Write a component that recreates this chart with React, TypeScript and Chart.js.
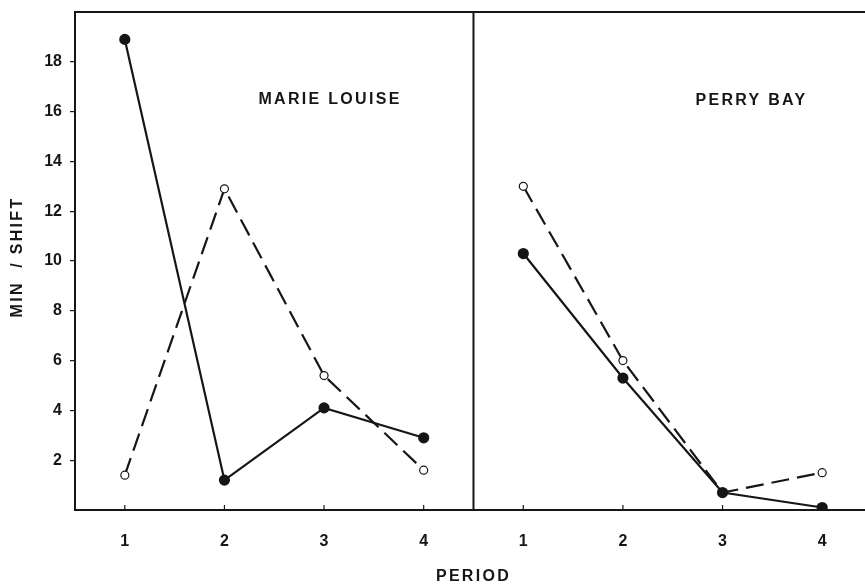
import React, { useEffect, useRef } from "react";
import { Chart, registerables } from "chart.js";

Chart.register(...registerables);

const periods = [1, 2, 3, 4];
const periodTicks = ["1", "2", "3", "4", "1", "2", "3", "4"];
const yTicks = [2, 4, 6, 8, 10, 12, 14, 16, 18];
const sites = ["MARIE LOUISE", "PERRY BAY"];
const marieLouiseFilled = [18.9, 1.2, 4.1, 2.9];
const marieLouiseOpen = [1.4, 12.9, 5.4, 1.6];
const perryBayFilled = [10.3, 5.3, 0.7, 0.1];
const perryBayOpen = [13.0, 6.0, 0.7, 1.5];

const INK = "#161616";
const FONT = '"Liberation Sans", Arial, sans-serif';

function pts(vals: number[], offset: number) {
  return vals.map((v, i) => ({ x: periods[i] + offset, y: v }));
}

const decorPlugin = {
  id: "decor",
  afterDraw(chart: any) {
    const ctx = chart.ctx;
    const xs = chart.scales.x;
    const ys = chart.scales.y;
    const a = chart.chartArea;
    ctx.save();
    ctx.strokeStyle = INK;
    ctx.lineWidth = 2;
    ctx.beginPath();
    ctx.moveTo(a.left, a.top);
    ctx.lineTo(a.right, a.top);
    ctx.stroke();
    const dx = xs.getPixelForValue(4.5);
    ctx.beginPath();
    ctx.moveTo(dx, a.top);
    ctx.lineTo(dx, a.bottom);
    ctx.stroke();
    ctx.lineWidth = 1.2;
    for (let v = 1; v <= 8; v++) {
      const px = xs.getPixelForValue(v);
      ctx.beginPath();
      ctx.moveTo(px, a.bottom);
      ctx.lineTo(px, a.bottom - 5);
      ctx.stroke();
    }
    ctx.fillStyle = INK;
    ctx.font = `bold 16px ${FONT}`;
    (ctx as any).letterSpacing = "2.3px";
    ctx.textAlign = "center";
    ctx.textBaseline = "middle";
    ctx.fillText(sites[0], xs.getPixelForValue(3.06), ys.getPixelForValue(16.5));
    ctx.fillText(sites[1], xs.getPixelForValue(7.29), ys.getPixelForValue(16.45));
    ctx.fillText("PERIOD", dx, 577);
    ctx.translate(18, 257);
    ctx.rotate(-Math.PI / 2);
    ctx.fillText("MIN  / SHIFT", 0, 0);
    ctx.restore();
  },
};

export default function App() {
  const ref = useRef<HTMLCanvasElement>(null);
  useEffect(() => {
    if (!ref.current) return;
    const solid = (data: any) => ({
      data,
      borderColor: INK,
      backgroundColor: INK,
      borderWidth: 2.2,
      pointRadius: 4.5,
      pointBackgroundColor: INK,
      pointBorderColor: INK,
      showLine: true,
      tension: 0,
    });
    const dashed = (data: any) => ({
      data,
      borderColor: INK,
      backgroundColor: "#fff",
      borderWidth: 2.2,
      borderDash: [18, 8],
      pointRadius: 4,
      pointBorderWidth: 1.2,
      pointBackgroundColor: "#fff",
      pointBorderColor: INK,
      showLine: true,
      tension: 0,
    });
    const chart = new Chart(ref.current, {
      type: "scatter",
      data: {
        datasets: [
          solid(pts(marieLouiseFilled, 0)),
          dashed(pts(marieLouiseOpen, 0)),
          solid(pts(perryBayFilled, 4)),
          dashed(pts(perryBayOpen, 4)),
        ] as any,
      },
      options: {
        animation: false,
        responsive: false,
        layout: { autoPadding: false, padding: { top: 12, left: 0, right: 0, bottom: 0 } },
        plugins: { legend: { display: false }, tooltip: { enabled: false } },
        scales: {
          x: {
            type: "linear",
            min: 0.5,
            max: 8.43,
            afterBuildTicks: (s: any) => {
              s.ticks = periodTicks.map((_, i) => ({ value: i + 1 }));
            },
            afterFit: (s: any) => {
              s.height = 76;
              s.paddingLeft = 0;
              s.paddingRight = 0;
            },
            ticks: {
              color: INK,
              font: { family: FONT, size: 16, weight: "bold" },
              padding: 22,
              maxRotation: 0,
              autoSkip: false,
              callback: (v: any) => periodTicks[Math.round(Number(v)) - 1] ?? "",
            },
            grid: { display: false, drawTicks: false },
            border: { display: true, color: INK, width: 2 },
          },
          y: {
            type: "linear",
            min: 0,
            max: 20,
            afterBuildTicks: (s: any) => {
              s.ticks = yTicks.map((v) => ({ value: v }));
            },
            afterFit: (s: any) => {
              s.width = 75;
              s.paddingTop = 0;
              s.paddingBottom = 0;
            },
            ticks: {
              color: INK,
              font: { family: FONT, size: 16, weight: "bold" },
              padding: 8,
            },
            grid: {
              display: true,
              drawOnChartArea: false,
              drawTicks: true,
              tickLength: 5,
              color: INK,
              lineWidth: 1.2,
            },
            border: { display: true, color: INK, width: 2 },
          },
        },
      },
      plugins: [decorPlugin],
    });
    return () => chart.destroy();
  }, []);
  return (
    <div style={{ position: "fixed", left: 0, top: 0, width: 865, height: 586, background: "#fff" }}>
      <canvas ref={ref} width={865} height={586} style={{ width: 865, height: 586 }} />
    </div>
  );
}
